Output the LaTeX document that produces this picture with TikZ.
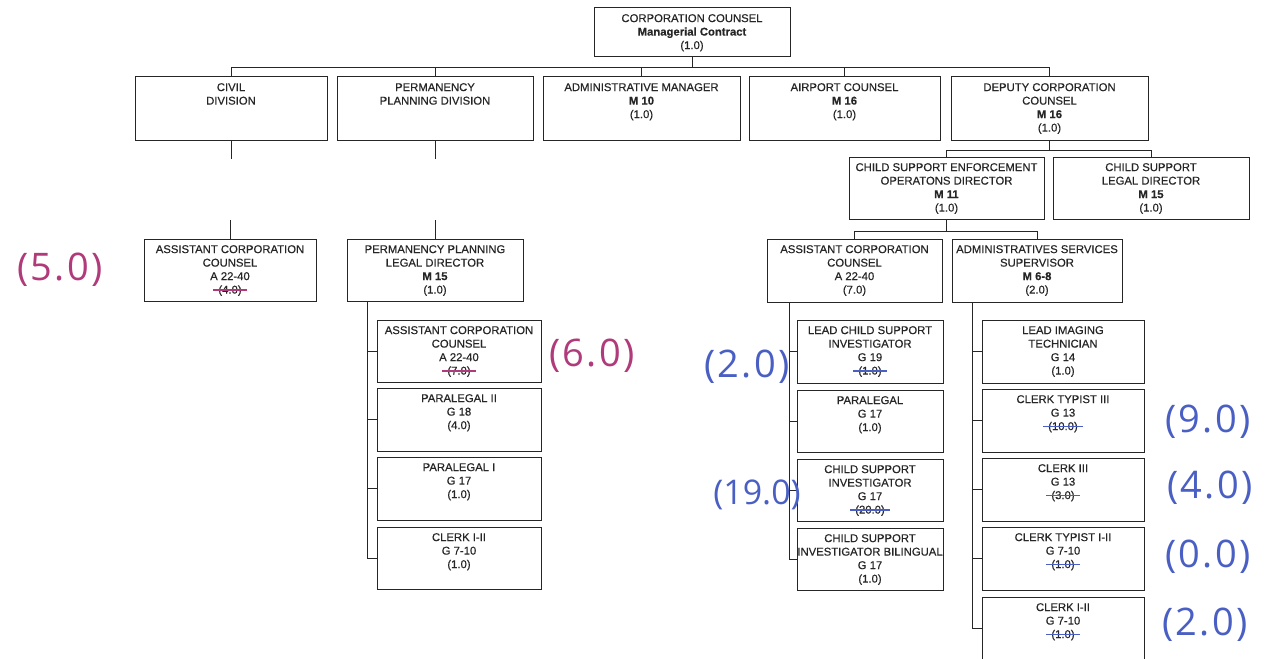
\documentclass[tikz,border=0pt]{standalone}
\usepackage{fontspec}
\setmainfont{Liberation Sans}[FakeBold=0.35]
\newfontfamily\hand{Open Sans}[LetterSpace=6]
\newfontfamily\handn{Open Sans}[LetterSpace=0]
\usetikzlibrary{fit,calc}
\definecolor{ink}{HTML}{262626}
\definecolor{pen1}{HTML}{B03A7A}
\definecolor{pen2}{HTML}{4A5FC4}
\newcommand\strk[2]{\setbox0=\hbox{#2}\copy0\llap{\hbox to\wd0{\hss\textcolor{#1}{\rule[2.6pt]{\dimexpr\wd0+10pt\relax}{1.5pt}}\hss}}}
\newcommand\obox[6]{%
  \node[boxframe, fit={(#2,#3) (#4,#5)}] (#1) {};
  \node[boxtext] (#1-t) at ($(#1.north)+(0,6.5)$) {#6};
}
\tikzset{
  boxframe/.style={draw=ink, line width=1pt, inner sep=0pt, rectangle},
  boxtext/.style={anchor=north, inner sep=0pt, align=center, text=ink, font=\fontsize{11.3}{13.5}\selectfont},
  conn/.style={draw=ink, line width=1pt},
  note/.style={inner sep=0pt, font=\hand\fontsize{38}{42}\selectfont},
}
\begin{document}
\begin{tikzpicture}[x=1pt,y=-1pt]
\useasboundingbox[fill=white] (0,0) rectangle (1265,658);

% boxes
\obox{cc}{594}{8}{790}{57}{CORPORATION COUNSEL\\\textbf{Managerial Contract}\\(1.0)}
\obox{civ}{135}{77}{327}{140}{CIVIL\\DIVISION}
\obox{ppd}{337}{77}{533}{140}{PERMANENCY\\PLANNING DIVISION}
\obox{adm}{543}{77}{740}{140}{ADMINISTRATIVE MANAGER\\\textbf{M 10}\\(1.0)}
\obox{air}{749}{77}{940}{140}{AIRPORT COUNSEL\\\textbf{M 16}\\(1.0)}
\obox{dcc}{951}{77}{1148}{140}{DEPUTY CORPORATION\\COUNSEL\\\textbf{M 16}\\(1.0)}
\obox{cse}{849}{157}{1044}{219}{CHILD SUPPORT ENFORCEMENT\\OPERATONS DIRECTOR\\\textbf{M 11}\\(1.0)}
\obox{csl}{1053}{157}{1249}{219}{CHILD SUPPORT\\LEGAL DIRECTOR\\\textbf{M 15}\\(1.0)}
\obox{acc1}{144}{239}{316}{301}{ASSISTANT CORPORATION\\COUNSEL\\A 22-40\\\strk{pen1}{(4.0)}}
\obox{ppld}{347}{239}{523}{301}{PERMANENCY PLANNING\\LEGAL DIRECTOR\\\textbf{M 15}\\(1.0)}
\obox{acc2}{377}{320}{541}{382}{ASSISTANT CORPORATION\\COUNSEL\\A 22-40\\\strk{pen1}{(7.0)}}
\obox{pl2}{377}{388}{541}{451}{PARALEGAL II\\G 18\\(4.0)}
\obox{pl1}{377}{457}{541}{520}{PARALEGAL I\\G 17\\(1.0)}
\obox{clk1}{377}{527}{541}{589}{CLERK I-II\\G 7-10\\(1.0)}
\obox{acc3}{767}{239}{942}{302}{ASSISTANT CORPORATION\\COUNSEL\\A 22-40\\(7.0)}
\obox{ass}{952}{239}{1122}{302}{ADMINISTRATIVES SERVICES\\SUPERVISOR\\\textbf{M 6-8}\\(2.0)}
\obox{lcsi}{797}{320}{943}{383}{LEAD CHILD SUPPORT\\INVESTIGATOR\\G 19\\\strk{pen2}{(1.0)}}
\obox{para}{797}{390}{943}{452}{PARALEGAL\\G 17\\(1.0)}
\obox{csi}{797}{459}{943}{521}{CHILD SUPPORT\\INVESTIGATOR\\G 17\\\strk{pen2}{(20.0)}}
\obox{csib}{797}{528}{943}{590}{CHILD SUPPORT\\INVESTIGATOR BILINGUAL\\G 17\\(1.0)}
\obox{lit}{982}{320}{1144}{383}{LEAD IMAGING\\TECHNICIAN\\G 14\\(1.0)}
\obox{ct3}{982}{389}{1144}{452}{CLERK TYPIST III\\G 13\\\strk{pen2}{(10.0)}}
\obox{c3}{982}{458}{1144}{521}{CLERK III\\G 13\\\strk{pen2}{(3.0)}}
\obox{ct12}{982}{527}{1144}{590}{CLERK TYPIST I-II\\G 7-10\\\strk{pen2}{(1.0)}}
\obox{c12}{982}{597}{1144}{660}{CLERK I-II\\G 7-10\\\strk{pen2}{(1.0)}}

% connectors
\foreach \c in {civ,ppd,adm,air,dcc}{\draw[conn] (cc.south) -- ++(0,10) -| (\c.north);}
\draw[conn] (civ.south) -- ++(0,18);
\draw[conn] (acc1.north) -- ++(0,-19);
\draw[conn] (ppd.south) -- ++(0,18);
\draw[conn] (ppld.north) -- ++(0,-19);
\foreach \c in {cse,csl}{\draw[conn] (dcc.south) -- ++(0,10) -| (\c.north);}
\foreach \c in {acc3,ass}{\draw[conn] (cse.south) -- ++(0,12) -| (\c.north);}
\coordinate (s1) at ($(ppld.south west)+(21,0)$);
\foreach \c in {acc2,pl2,pl1,clk1}{\draw[conn] (s1) |- (\c.west);}
\coordinate (s2) at ($(acc3.south west)+(23,0)$);
\foreach \c in {lcsi,para,csi,csib}{\draw[conn] (s2) |- (\c.west);}
\coordinate (s3) at ($(ass.south west)+(21,0)$);
\foreach \c in {lit,ct3,c3,ct12,c12}{\draw[conn] (s3) |- (\c.west);}

% handwritten notes
\node[note, text=pen1] (n1) at (60,270) {(5.0)};
\node[note, text=pen1] (n2) at (592,356) {(6.0)};
\node[note, text=pen2] (n3) at (747,367) {(2.0)};
\node[note, text=pen2, font=\handn\fontsize{34}{38}\selectfont] (n4) at (757,495) {(19.0)};
\node[note, text=pen2] (n5) at (1208,422) {(9.0)};
\node[note, text=pen2] (n6) at (1210,488) {(4.0)};
\node[note, text=pen2] (n7) at (1208,557) {(0.0)};
\node[note, text=pen2] (n8) at (1205,625) {(2.0)};
\end{tikzpicture}
\end{document}
